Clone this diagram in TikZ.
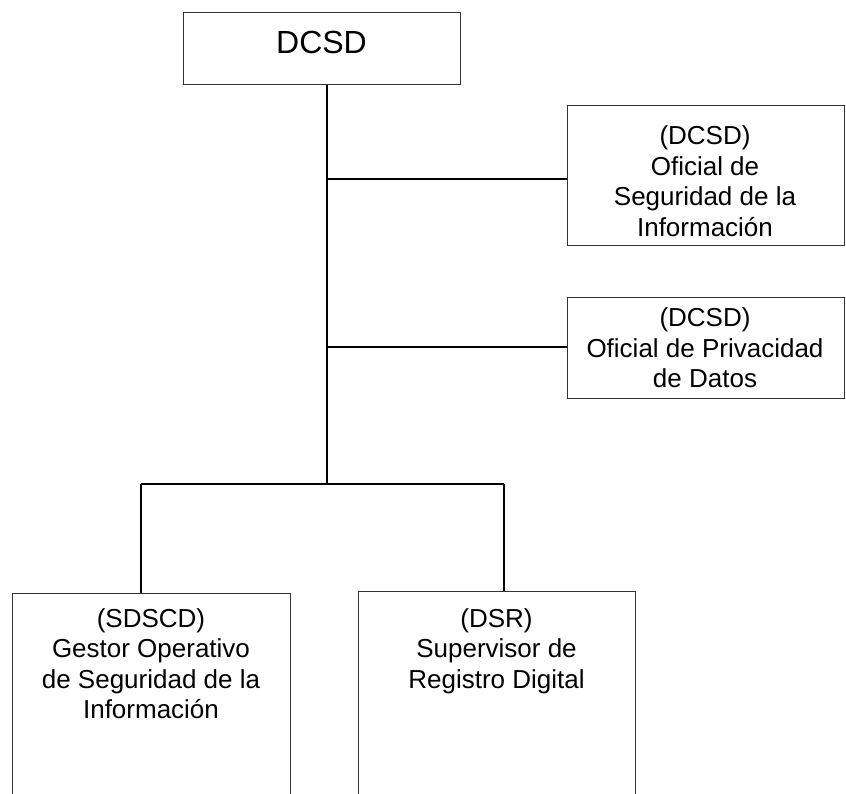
\documentclass[tikz,border=0pt]{standalone}
\usepackage{fontspec}
\setmainfont{Liberation Sans}
\tikzset{
  orgbox/.style={draw=black!80, line width=1pt, rectangle, inner sep=0pt, fill=white},
  orgtext/.style={align=center, inner sep=0pt, font=\fontsize{26}{30.5}\selectfont},
  conn/.style={draw=black, line width=1.6pt}
}
\begin{document}
\begin{tikzpicture}[x=1pt,y=-1pt]
\useasboundingbox (0,0) rectangle (846,794);
\clip (0,0) rectangle (846,794);
% boxes
\node[orgbox, anchor=north west, minimum width=277pt, minimum height=72pt] (dcsd) at (183,12) {};
\node[orgtext, font=\fontsize{32}{36}\selectfont] (dcsdt) at (321.5,42) {DCSD};

\node[orgbox, anchor=north west, minimum width=277pt, minimum height=140pt] (ofsi) at (567,105) {};
\node[orgtext] (ofsit) at (705,181) {(DCSD)\\Oficial de\\Seguridad de la\\Información};

\node[orgbox, anchor=north west, minimum width=277pt, minimum height=101pt] (ofpd) at (567,297) {};
\node[orgtext] (ofpdt) at (705,348) {(DCSD)\\Oficial de Privacidad\\de Datos};

\node[orgbox, anchor=north west, minimum width=278pt, minimum height=260pt] (sdscd) at (12,593) {};
\node[orgtext, anchor=north] (sdscdt) at (151,608) {(SDSCD)\\Gestor Operativo\\de Seguridad de la\\Información};

\node[orgbox, anchor=north west, minimum width=277pt, minimum height=260pt] (dsr) at (358,591) {};
\node[orgtext, anchor=north] (dsrt) at (496.5,608) {(DSR)\\Supervisor de\\Registro Digital};

% junctions
\coordinate (j1) at (327,179);
\coordinate (j2) at (327,347);
\coordinate (jb) at (327,484);
\coordinate (bl) at (141,484);
\coordinate (br) at (504,484);

% connectors
\draw[conn] (dcsd.south -| jb) -- (jb);
\draw[conn] (j1) -- (ofsi.west |- j1);
\draw[conn] (j2) -- (ofpd.west |- j2);
\draw[conn] (bl) -- (br);
\draw[conn, line width=1.2pt] (bl) -- (bl |- sdscd.north);
\draw[conn, line width=1.2pt] (br) -- (br |- dsr.north);
\end{tikzpicture}
\end{document}
